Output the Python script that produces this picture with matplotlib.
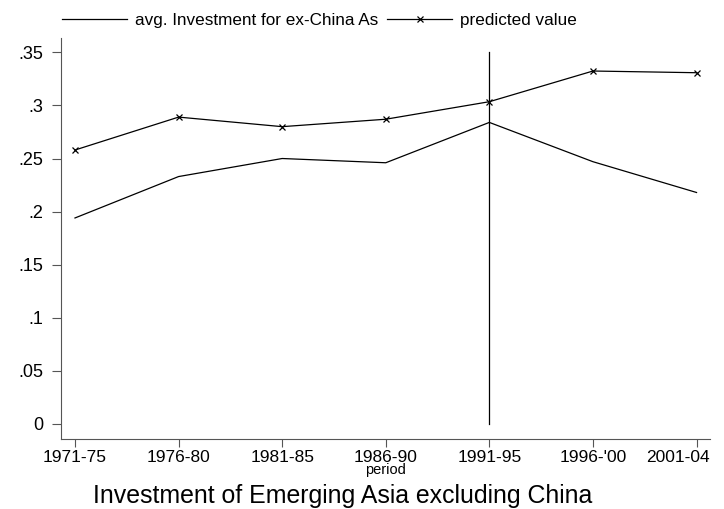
import matplotlib.pyplot as plt
from matplotlib.transforms import ScaledTranslation

plt.rcParams['font.family'] = ['Liberation Sans', 'DejaVu Sans']

periods = ["1971-75", "1976-80", "1981-85", "1986-90", "1991-95", "1996-'00", "2001-04"]
avg_invest = [0.194, 0.233, 0.250, 0.246, 0.284, 0.247, 0.218]
predicted = [0.258, 0.289, 0.280, 0.287, 0.3035, 0.3324, 0.3308]
yticks = [0, 0.05, 0.1, 0.15, 0.2, 0.25, 0.3, 0.35]
ytick_labels = ["0", ".05", ".1", ".15", ".2", ".25", ".3", ".35"]
vline_period = 4

W, H = 724, 509
fig = plt.figure(figsize=(W / 100, H / 100), dpi=100)
ax = fig.add_axes([61 / W, 1 - 438.5 / H, (710 - 61) / W, (438.5 - 38) / H])

x = list(range(len(periods)))
ax.plot(x, avg_invest, color='black', lw=0.9, label="avg. Investment for ex-China As")
ax.plot(x, predicted, color='black', lw=0.9, marker='x', ms=4.5, mew=0.9,
        label="predicted value")
ax.plot([vline_period, vline_period], [0, 0.35], color='black', lw=0.9)

ax.set_xlim(-0.135, 6.13)
ax.set_ylim(-0.0137, 0.3635)
ax.set_yticks(yticks)
ax.set_yticklabels(ytick_labels)
ax.set_xticks(x)
ax.set_xticklabels(periods)
ax.tick_params(axis='y', labelsize=13, length=6.5, width=0.8, color='#555555', pad=6)
ax.tick_params(axis='x', labelsize=12.5, length=6, width=0.8, color='#555555', pad=2)
for s in ['top', 'right']:
    ax.spines[s].set_visible(False)
for s in ['left', 'bottom']:
    ax.spines[s].set_color('#555555')
    ax.spines[s].set_linewidth(0.8)
ax.set_xlabel("period", fontsize=10.5, labelpad=-1)

# keep the last period label inside the figure, like the original
last = ax.get_xticklabels()[-1]
last.set_horizontalalignment('right')
last.set_transform(last.get_transform() + ScaledTranslation(0.13, 0, fig.dpi_scale_trans))

fig.legend(loc='center left', bbox_to_anchor=(62 / W, 1 - 20 / H), ncol=2, frameon=False,
           fontsize=12.3, handlelength=3.8, columnspacing=0.55, handletextpad=0.45,
           borderpad=0, borderaxespad=0)
fig.text(343 / W, 1 - 503 / H, "Investment of Emerging Asia excluding China",
         ha='center', va='baseline', fontsize=17.9)

fig.savefig("out.png", dpi=100)
